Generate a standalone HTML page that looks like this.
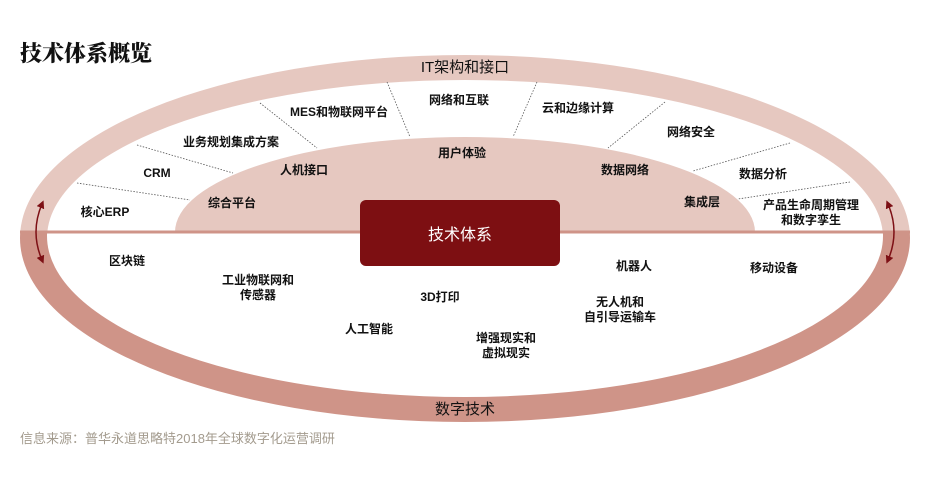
<!DOCTYPE html>
<html><head><meta charset="utf-8"><style>
html,body{margin:0;padding:0;background:#fff;}
svg{display:block;font-family:"Liberation Sans","Noto Sans CJK SC",sans-serif;}
.t{font-size:12px;fill:#111;text-anchor:middle;font-weight:bold;}
</style></head><body>
<svg width="930" height="500" viewBox="0 0 930 500" xmlns="http://www.w3.org/2000/svg">
<defs>
<clipPath id="up"><rect x="0" y="0" width="930" height="232"/></clipPath>
<clipPath id="dn"><rect x="0" y="232" width="930" height="300"/></clipPath>
<marker id="ah" markerWidth="8" markerHeight="8" refX="4" refY="4" orient="auto-start-reverse" markerUnits="userSpaceOnUse"><path d="M0,0 L8,4 L0,8 z" fill="#7d1015"/></marker>
</defs>
<text x="20" y="61" font-family="'Noto Serif CJK SC',serif" font-weight="900" font-size="22" fill="#111">技术体系概览</text>
<g clip-path="url(#up)">
<ellipse cx="465" cy="238" rx="445" ry="183" fill="#e6c8c0"/>
<ellipse cx="465" cy="238" rx="418" ry="158" fill="#fff"/>
</g>
<g clip-path="url(#dn)">
<ellipse cx="465" cy="238" rx="445" ry="184" fill="#cf9488"/>
<ellipse cx="465" cy="236" rx="418" ry="161" fill="#fff"/>
</g>
<path d="M175,232 A290,95 0 0 1 755,232 Z" fill="#e6c8c0"/>
<line x1="20" y1="232" x2="910" y2="232" stroke="#cf9488" stroke-width="3"/>
<g stroke="#555" stroke-width="0.8" stroke-dasharray="1.5,1.5" fill="none">
<line x1="387" y1="82" x2="410" y2="137"/>
<line x1="260" y1="103" x2="317" y2="148"/>
<line x1="137" y1="145" x2="233" y2="173"/>
<line x1="77" y1="183" x2="190" y2="200"/>
<line x1="537" y1="82" x2="513" y2="137"/>
<line x1="665" y1="102" x2="608" y2="148"/>
<line x1="790" y1="143" x2="693" y2="171"/>
<line x1="850" y1="182" x2="738" y2="199"/>
</g>
<path d="M42,204 Q30,232 42,260" stroke="#7d1015" stroke-width="1.5" fill="none" marker-start="url(#ah)" marker-end="url(#ah)"/>
<path d="M888,204 Q900,232 888,260" stroke="#7d1015" stroke-width="1.5" fill="none" marker-start="url(#ah)" marker-end="url(#ah)"/>
<rect x="360" y="200" width="200" height="66" rx="6" fill="#7d0f12"/>
<text x="460" y="240" font-size="16" fill="#fff" text-anchor="middle">技术体系</text>
<text x="465" y="72" font-size="15" fill="#111" text-anchor="middle">IT架构和接口</text>
<text x="465" y="414" font-size="15" fill="#111" text-anchor="middle">数字技术</text>
<g>
<text class="t" x="459" y="104">网络和互联</text>
<text class="t" x="339" y="116">MES和物联网平台</text>
<text class="t" x="578" y="112">云和边缘计算</text>
<text class="t" x="691" y="136">网络安全</text>
<text class="t" x="231" y="146">业务规划集成方案</text>
<text class="t" x="157" y="177">CRM</text>
<text class="t" x="304" y="174">人机接口</text>
<text class="t" x="462" y="157">用户体验</text>
<text class="t" x="625" y="174">数据网络</text>
<text class="t" x="763" y="178">数据分析</text>
<text class="t" x="232" y="207">综合平台</text>
<text class="t" x="702" y="206">集成层</text>
<text class="t" x="105" y="216">核心ERP</text>
<text class="t" x="811" y="209">产品生命周期管理</text>
<text class="t" x="811" y="224">和数字孪生</text>
<text class="t" x="127" y="265">区块链</text>
<text class="t" x="634" y="270">机器人</text>
<text class="t" x="774" y="272">移动设备</text>
<text class="t" x="258" y="284">工业物联网和</text>
<text class="t" x="258" y="299">传感器</text>
<text class="t" x="440" y="301">3D打印</text>
<text class="t" x="620" y="306">无人机和</text>
<text class="t" x="620" y="321">自引导运输车</text>
<text class="t" x="369" y="333">人工智能</text>
<text class="t" x="506" y="342">增强现实和</text>
<text class="t" x="506" y="357">虚拟现实</text>
</g>
<text x="20" y="443" font-size="13" fill="#a39b8e">信息来源：普华永道思略特2018年全球数字化运营调研</text>
</svg>
</body></html>
